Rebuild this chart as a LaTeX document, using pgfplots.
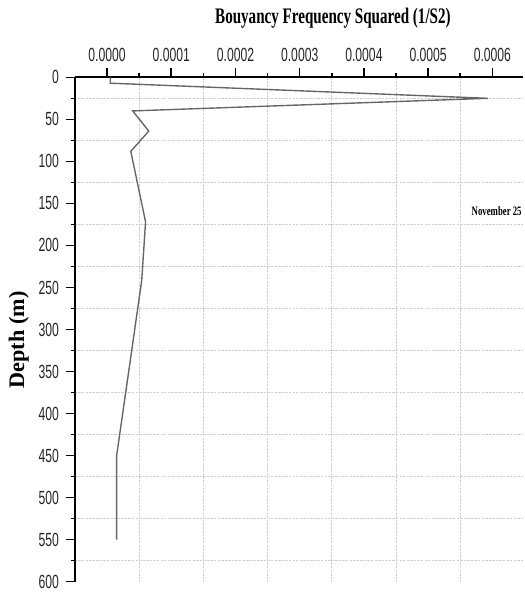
\documentclass[border=0pt]{standalone}
\usepackage{pgfplots}
\pgfplotsset{compat=1.18}
\usepackage{fontspec}
\setmainfont{Liberation Serif}
\newfontfamily\ticksf[FakeStretch=0.64]{Liberation Sans}
\newfontfamily\titlef[FakeStretch=0.68]{Liberation Serif}
\begin{document}
\begin{tikzpicture}
\path (0,0) rectangle (264pt,-297.5pt);
\begin{axis}[
  at={(37.8pt,-39pt)}, anchor=north west,
  scale only axis, width=226.2pt, height=254.5pt,
  xmin=-0.00005, xmax=0.000648,
  ymin=0, ymax=600, y dir=reverse,
  axis x line=top, axis y line=left,
  axis line style={line width=0.9pt,-},
  xtick={0,0.0001,0.0002,0.0003,0.0004,0.0005,0.0006},
  xticklabels={0.0000,0.0001,0.0002,0.0003,0.0004,0.0005,0.0006},
  ytick={0,50,...,600},
  minor x tick num=1, minor y tick num=1,
  tick align=outside,
  major tick length=4.5pt, minor tick length=2.2pt,
  tick style={line width=0.8pt,black},
  minor grid style={gray!38,line width=0.5pt,dash pattern=on 1.2pt off 0.6pt},
  xminorgrids=true, yminorgrids=true,
  scaled x ticks=false,
  ticklabel style={font=\ticksf\fontsize{9.6}{10}\selectfont, text=black!85},
  /pgf/number format/assume math mode=true,
]
\addplot[color=black!60, line width=0.7pt] coordinates {
(0.000005,0) (0.000005,7) (0.000593,25) (0.00004,40) (0.000065,64)
(0.000037,88) (0.00006,172) (0.000054,242) (0.000015,450) (0.000015,550)
};
\end{axis}
\node[font=\titlef\bfseries\fontsize{11.2}{12}\selectfont] at (168pt,-9pt) {Bouyancy Frequency Squared (1/S2)};
\node[font=\bfseries\fontsize{11.2}{12}\selectfont, rotate=90] at (9.5pt,-171.5pt) {Depth (m)};
\begin{scope}
\clip (200pt,-95pt) rectangle (264pt,-118pt);
\node[font=\titlef\bfseries\fontsize{6.5}{7}\selectfont, anchor=west] at (234.5pt,-106.5pt) {November 25};
\end{scope}
\end{tikzpicture}
\end{document}
